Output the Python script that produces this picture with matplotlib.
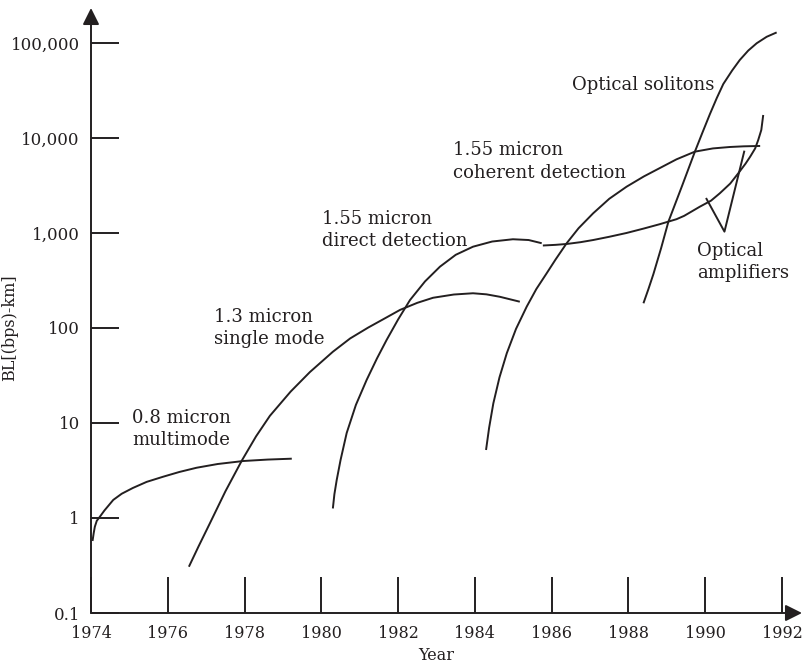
import numpy as np
import matplotlib
matplotlib.use("Agg")
import matplotlib.pyplot as plt
from matplotlib.ticker import NullLocator

# ---- data (year, bit rate-distance product) ----
mm_year = [1974.04, 1974.07, 1974.10, 1974.15, 1974.23, 1974.35, 1974.58, 1974.80,
           1975.09, 1975.45, 1975.88, 1976.30, 1976.75, 1977.30, 1977.97, 1978.60, 1979.23]
mm_bl = [0.573, 0.692, 0.809, 0.933, 1.03, 1.20, 1.55, 1.80, 2.07, 2.40, 2.72, 3.05,
         3.38, 3.70, 3.98, 4.12, 4.21]

sm_year = [1976.55, 1976.80, 1977.10, 1977.50, 1977.93, 1978.30, 1978.66, 1979.20,
           1979.70, 1980.30, 1980.75, 1981.22, 1981.65, 1982.05, 1982.50, 1982.91,
           1983.45, 1983.95, 1984.30, 1984.65, 1985.17]
sm_bl = [0.307, 0.501, 0.885, 1.905, 4.03, 7.24, 11.9, 21.4, 34.3, 56.2, 77.6, 101,
         126, 155, 184, 208, 225, 232, 226, 213, 189]

dd_year = [1980.30, 1980.34, 1980.40, 1980.50, 1980.66, 1980.90, 1981.18, 1981.45,
           1981.70, 1982.00, 1982.31, 1982.70, 1983.09, 1983.50, 1983.95, 1984.45,
           1984.99, 1985.40, 1985.74]
dd_bl = [1.26, 1.78, 2.51, 4.07, 7.85, 15.5, 28.4, 47.9, 74.8, 123, 197, 309, 442,
         589, 717, 813, 859, 843, 780]

coh_year = [1984.29, 1984.37, 1984.48, 1984.64, 1984.83, 1985.07, 1985.35, 1985.60,
            1985.87, 1986.10, 1986.39, 1986.70, 1987.08, 1987.50, 1987.95, 1988.40,
            1988.82, 1989.25, 1989.73, 1990.20, 1990.64, 1991.00, 1991.43]
coh_bl = [5.2, 8.9, 16.1, 30.2, 54.2, 97.7, 168, 257, 377, 525, 780, 1122, 1611,
          2291, 3069, 3936, 4831, 5957, 7178, 7762, 8035, 8166, 8241]

amp_year = [1985.77, 1986.10, 1986.39, 1986.75, 1987.08, 1987.50, 1987.95, 1988.40,
            1988.82, 1989.25, 1989.45, 1989.86, 1990.15, 1990.38, 1990.65, 1990.86,
            1991.05, 1991.17, 1991.30, 1991.38, 1991.46, 1991.51]
amp_bl = [738, 750, 766, 800, 843, 912, 1000, 1114, 1239, 1396, 1514, 1892, 2188,
          2618, 3311, 4246, 5370, 6353, 7762, 9528, 12134, 17458]

sol_year = [1988.39, 1988.52, 1988.65, 1988.85, 1989.04, 1989.40, 1989.73, 1989.93,
            1990.12, 1990.30, 1990.47, 1990.70, 1990.90, 1991.12, 1991.34, 1991.60,
            1991.86]
sol_bl = [182, 257, 370, 692, 1315, 3162, 7178, 11482, 17783, 26303, 36983, 51286,
          66222, 83176, 99312, 116145, 129122]

# V-shaped leader for "Optical amplifiers"
lead_year = [1990.02, 1990.50, 1991.02]
lead_bl = [2335, 1033, 7350]

x_ticks = [1974, 1976, 1978, 1980, 1982, 1984, 1986, 1988, 1990, 1992]
y_ticks = [0.1, 1, 10, 100, 1000, 10000, 100000]
y_labels = ["0.1", "1", "10", "100", "1,000", "10,000", "100,000"]

labels = [
    ("0.8 micron\nmultimode", 1975.07, 8.65),
    ("1.3 micron\nsingle mode", 1977.20, 99.4),
    ("1.55 micron\ndirect detection", 1980.01, 1076),
    ("1.55 micron\ncoherent detection", 1983.43, 5640),
    ("Optical solitons", 1986.52, 36100),
    ("Optical\namplifiers", 1989.79, 499),
]

ink = "#231f20"
plt.rcParams["font.family"] = ["DejaVu Serif"]

fig = plt.figure(figsize=(8.04, 6.69), dpi=100)
W, H = 804, 669
ax = fig.add_axes([91 / W, (H - 613) / H, (802 - 91) / W, (613 - 8) / H])
ax.set_yscale("log")
ax.set_xlim(1974, 1992.52)
ax.set_ylim(0.1, 10 ** 5.368)

lw = 1.4
for xs, ys in [(mm_year, mm_bl), (sm_year, sm_bl), (dd_year, dd_bl),
               (coh_year, coh_bl), (amp_year, amp_bl), (sol_year, sol_bl),
               (lead_year, lead_bl)]:
    ax.plot(xs, ys, color=ink, lw=lw, solid_capstyle="butt", solid_joinstyle="round")

for txt, x, y in labels:
    ax.text(x, y, txt, ha="left", va="center", fontsize=13, color=ink, linespacing=1.3)

# axes with arrow heads
for s in ax.spines.values():
    s.set_visible(False)
arrow = dict(arrowstyle="-|>,head_length=1.0,head_width=0.5", lw=lw, color=ink,
             mutation_scale=10, shrinkA=0, shrinkB=0)
ax.annotate("", xy=(1, 0), xytext=(0, 0), xycoords="axes fraction", arrowprops=arrow)
ax.annotate("", xy=(0, 1), xytext=(0, 0), xycoords="axes fraction", arrowprops=arrow)

ax.set_xticks(x_ticks)
ax.set_xticklabels([str(v) for v in x_ticks])
ax.set_yticks(y_ticks)
ax.set_yticklabels(y_labels)
ax.yaxis.set_minor_locator(NullLocator())
ax.tick_params(axis="x", direction="in", length=26, width=lw, color=ink,
               labelsize=11.5, labelcolor=ink, pad=8.5)
ax.tick_params(axis="y", direction="in", length=20, width=lw, color=ink,
               labelsize=12, labelcolor=ink, pad=8)

fig.text(436 / W, 1 - 656 / H, "Year", ha="center", va="center", fontsize=11.5, color=ink)
fig.text(10 / W, 1 - 328 / H, "BL[(bps)-km]", ha="center", va="center", rotation=90,
         fontsize=11.5, color=ink)

fig.savefig("out.png", dpi=100)
